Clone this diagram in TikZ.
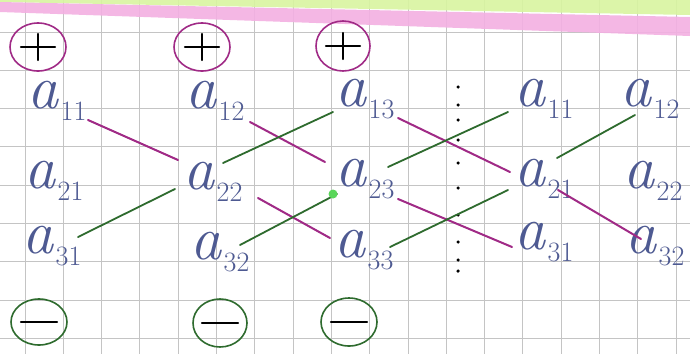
\documentclass[tikz,border=0pt]{standalone}
\usepackage{fontspec}
\usetikzlibrary{calc}
\definecolor{ink}{HTML}{4E5A92}
\definecolor{mag}{HTML}{A02A86}
\definecolor{grn}{HTML}{2E6B2E}
\definecolor{gridc}{HTML}{C4C4C4}
\definecolor{hlpink}{HTML}{F3B0E2}
\definecolor{hlgreen}{HTML}{D9F5A0}
\newcommand{\ent}[1]{{\fontsize{62}{62}\selectfont\itshape a}\kern2pt\raisebox{-12pt}{\fontsize{28}{28}\selectfont #1}}
\tikzset{
  entry/.style={inner sep=0pt, text=ink},
  posline/.style={draw=mag, line width=2pt, line cap=round},
  negline/.style={draw=grn, line width=1.8pt, line cap=round},
  plusring/.style={draw=mag, line width=1.6pt},
  minusring/.style={draw=grn, line width=1.6pt},
  sign/.style={draw=black, line width=2.4pt, line cap=round},
  dotmark/.style={fill=black, circle, inner sep=0pt, minimum size=3.5pt}
}
\begin{document}
\begin{tikzpicture}[x=1pt,y=-1pt]
\useasboundingbox (0,0) rectangle (690,354);
\fill[white] (0,0) rectangle (690,354);
% grid
\foreach \i in {0,...,17} { \draw[gridc, line width=1pt] ({25+38.3*\i},0) -- ({25+38.3*\i},354); }
\foreach \j in {0,...,8} { \draw[gridc, line width=1pt] (0,{32+38.3*\j}) -- (690,{32+38.3*\j}); }
% highlighter bands
\fill[hlgreen, opacity=0.9] (0,0) -- (690,0) -- (690,15) -- (0,2) -- cycle;
\fill[hlpink, opacity=0.9] (0,2) -- (690,17) -- (690,36) -- (0,12) -- cycle;
% entries
\node[entry] (a11) at (57,101) {\ent{11}};
\node[entry] (a21) at (54,181) {\ent{21}};
\node[entry] (a31) at (52,246) {\ent{31}};
\node[entry] (a12) at (215,101) {\ent{12}};
\node[entry] (a22) at (213,182) {\ent{22}};
\node[entry] (a32) at (220,252) {\ent{32}};
\node[entry] (a13) at (365,99) {\ent{13}};
\node[entry] (a23) at (365,179) {\ent{23}};
\node[entry] (a33) at (364,250) {\ent{33}};
\node[entry] (b11) at (544,99) {\ent{11}};
\node[entry] (b21) at (544,179) {\ent{21}};
\node[entry] (b31) at (544,242) {\ent{31}};
\node[entry] (b12) at (650,99) {\ent{12}};
\node[entry] (b22) at (653,181) {\ent{22}};
\node[entry] (b32) at (655,246) {\ent{32}};
% separator dots
\foreach \y [count=\k] in {87,105,120,140,163,188,215,242,260,271} {
  \node[dotmark] (d\k) at (458,\y) {};
}
% positive diagonals
\draw[posline] ($(a11)+(31,19)$) -- ($(a22)+(-35,-22)$);
\draw[posline] ($(a12)+(35,21)$) -- ($(a23)+(-40,-17)$);
\draw[posline] ($(a22)+(45,16)$) -- ($(a33)+(-34,-12)$);
\draw[posline] ($(a13)+(33,19)$) -- ($(b21)+(-34,-7)$);
\draw[posline] ($(a23)+(33,20)$) -- ($(b31)+(-32,5)$);
\draw[posline] ($(b21)+(14,11)$) -- ($(b32)+(-14,-7)$);
% negative diagonals
\draw[negline] ($(a31)+(26,-9)$) -- ($(a22)+(-38,7)$);
\draw[negline] ($(a22)+(10,-19)$) -- ($(a13)+(-32,13)$);
\draw[negline] ($(a32)+(20,-7)$) -- ($(a23)+(-28,15)$);
\fill[green!60!grn!70] ($(a23)+(-32,15)$) circle (4.5pt);
\draw[negline] ($(a23)+(23,-12)$) -- ($(b11)+(-36,13)$);
\draw[negline] ($(a33)+(26,-3)$) -- ($(b21)+(-36,11)$);
\draw[negline] ($(b21)+(13,-21)$) -- ($(b12)+(-15,16)$);
% sign rings
\draw[plusring] (38,47) ellipse (28pt and 24pt);
\draw[plusring] (202,47) ellipse (28pt and 24pt);
\draw[plusring] (343,46) ellipse (27pt and 25pt);
\node (p1) at (38,47) {}; \node (p2) at (202,47) {}; \node (p3) at (343,46) {};
\draw[sign] ($(p1)+(-17,0)$) -- ($(p1)+(17,0)$); \draw[sign] ($(p1)+(0,-13)$) -- ($(p1)+(0,13)$);
\draw[sign] ($(p2)+(-17,0)$) -- ($(p2)+(17,0)$); \draw[sign] ($(p2)+(0,-13)$) -- ($(p2)+(0,13)$);
\draw[sign] ($(p3)+(-17,0)$) -- ($(p3)+(17,0)$); \draw[sign] ($(p3)+(0,-13)$) -- ($(p3)+(0,13)$);
\draw[minusring] (39,322) ellipse (28pt and 23pt);
\draw[minusring] (220,323) ellipse (27pt and 24pt);
\draw[minusring] (349,322) ellipse (28pt and 24pt);
\node (m1) at (39,322) {}; \node (m2) at (220,323) {}; \node (m3) at (349,322) {};
\draw[sign] ($(m1)+(-18,0)$) -- ($(m1)+(18,0)$);
\draw[sign] ($(m2)+(-18,0)$) -- ($(m2)+(18,0)$);
\draw[sign] ($(m3)+(-18,0)$) -- ($(m3)+(18,0)$);
\end{tikzpicture}
\end{document}
